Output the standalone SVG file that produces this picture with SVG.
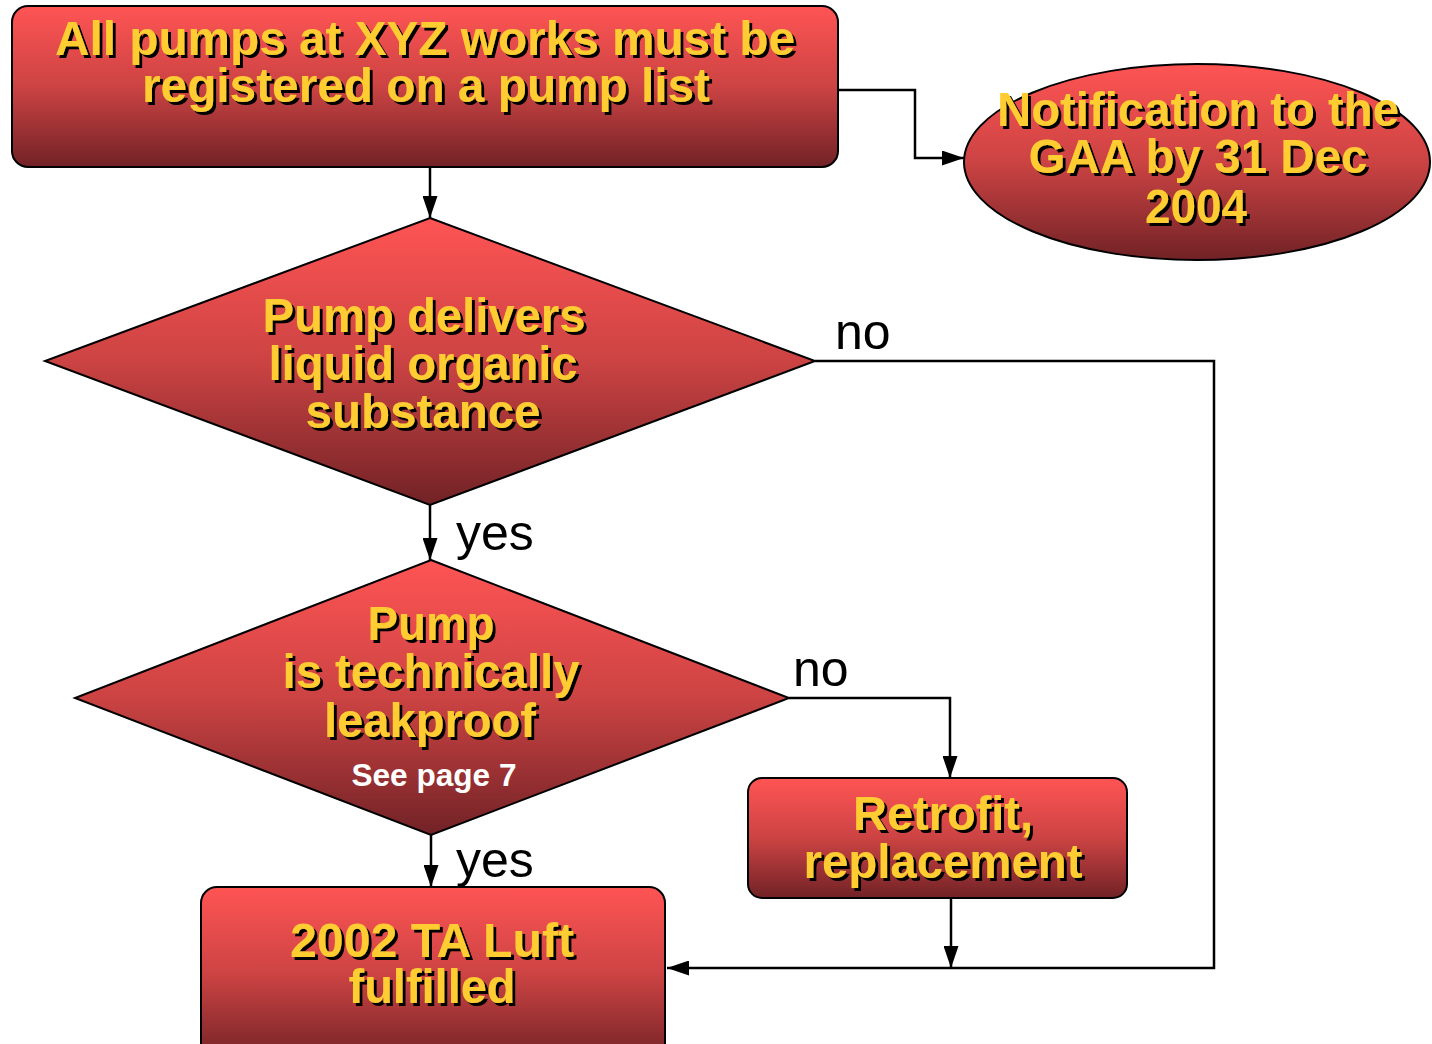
<svg xmlns="http://www.w3.org/2000/svg" width="1432" height="1044" viewBox="0 0 1432 1044">
<defs>
<linearGradient id="red" x1="0" y1="0" x2="0" y2="1">
<stop offset="0" stop-color="#ff5454"/>
<stop offset="0.5" stop-color="#cc4343"/>
<stop offset="1" stop-color="#712226"/>
</linearGradient>
<filter id="sh" x="-5%" y="-20%" width="110%" height="140%">
<feDropShadow dx="3" dy="3" stdDeviation="0" flood-color="#000" flood-opacity="1"/>
</filter>
<marker id="ah" viewBox="0 0 22 15" refX="22" refY="7.5" markerWidth="22" markerHeight="15" markerUnits="userSpaceOnUse" orient="auto">
<path d="M0,0 L22,7.5 L0,15 Z" fill="#000"/>
</marker>
</defs>
<style>
.shape{fill:url(#red);stroke:#000;stroke-width:2}
.t{font-family:"Liberation Sans",Arial,sans-serif;font-weight:bold;font-size:48px;fill:#ffcc33;text-anchor:middle;filter:url(#sh)}
.s{font-family:"Liberation Sans",Arial,sans-serif;font-weight:bold;font-size:32px;fill:#ffffff;text-anchor:middle}
.lbl{font-family:"Liberation Sans",Arial,sans-serif;font-size:50px;fill:#000}
.c{fill:none;stroke:#000;stroke-width:2.5}
</style>
<rect width="1432" height="1044" fill="#fff"/>
<g id="connectors">
<path class="c" d="M430,167 V218" marker-end="url(#ah)"/>
<path class="c" d="M838,90 H915 V158 H964" marker-end="url(#ah)"/>
<path class="c" d="M815,361 H1214 V968 H667" marker-end="url(#ah)"/>
<path class="c" d="M430,505 V560" marker-end="url(#ah)"/>
<path class="c" d="M789,698 H950 V778" marker-end="url(#ah)"/>
<path class="c" d="M951,898 V968" marker-end="url(#ah)"/>
<path class="c" d="M431,835 V887" marker-end="url(#ah)"/>
<text class="lbl" x="835" y="349">no</text>
<text class="lbl" x="793" y="686">no</text>
<text class="lbl" x="456" y="550">yes</text>
<text class="lbl" x="456" y="877">yes</text>
</g>
<g id="node-register">
<rect class="shape" x="12" y="6" width="826" height="161" rx="16"/>
<text class="t" x="425" y="55" textLength="740" lengthAdjust="spacingAndGlyphs">All pumps at XYZ works must be</text>
<text class="t" x="426" y="102" textLength="568" lengthAdjust="spacingAndGlyphs">registered on a pump list</text>
</g>
<g id="node-notification">
<ellipse class="shape" cx="1197" cy="162" rx="233" ry="98"/>
<text class="t" x="1198" y="126" textLength="402" lengthAdjust="spacingAndGlyphs">Notification to the</text>
<text class="t" x="1198" y="173" textLength="339" lengthAdjust="spacingAndGlyphs">GAA by 31 Dec</text>
<text class="t" x="1196" y="223" textLength="102" lengthAdjust="spacingAndGlyphs">2004</text>
</g>
<g id="node-delivers">
<polygon class="shape" points="430,218 815,361 430,505 45,361"/>
<text class="t" x="424" y="332" textLength="323" lengthAdjust="spacingAndGlyphs">Pump delivers</text>
<text class="t" x="423" y="380" textLength="309" lengthAdjust="spacingAndGlyphs">liquid organic</text>
<text class="t" x="423" y="428" textLength="235" lengthAdjust="spacingAndGlyphs">substance</text>
</g>
<g id="node-leakproof">
<polygon class="shape" points="431,560 789,698 431,835 75,698"/>
<text class="t" x="431" y="640" textLength="127" lengthAdjust="spacingAndGlyphs">Pump</text>
<text class="t" x="431" y="688" textLength="297" lengthAdjust="spacingAndGlyphs">is technically</text>
<text class="t" x="430" y="737" textLength="212" lengthAdjust="spacingAndGlyphs">leakproof</text>
<text class="s" x="434" y="786" textLength="165" lengthAdjust="spacingAndGlyphs">See page 7</text>
</g>
<g id="node-retrofit">
<rect class="shape" x="748" y="778" width="379" height="120" rx="14"/>
<text class="t" x="943" y="830" textLength="180" lengthAdjust="spacingAndGlyphs">Retrofit,</text>
<text class="t" x="943" y="878" textLength="279" lengthAdjust="spacingAndGlyphs">replacement</text>
</g>
<g id="node-fulfilled">
<rect class="shape" x="201" y="887" width="464" height="175" rx="16"/>
<text class="t" x="432" y="957" textLength="284" lengthAdjust="spacingAndGlyphs">2002 TA Luft</text>
<text class="t" x="432" y="1003" textLength="167" lengthAdjust="spacingAndGlyphs">fulfilled</text>
</g>
</svg>
